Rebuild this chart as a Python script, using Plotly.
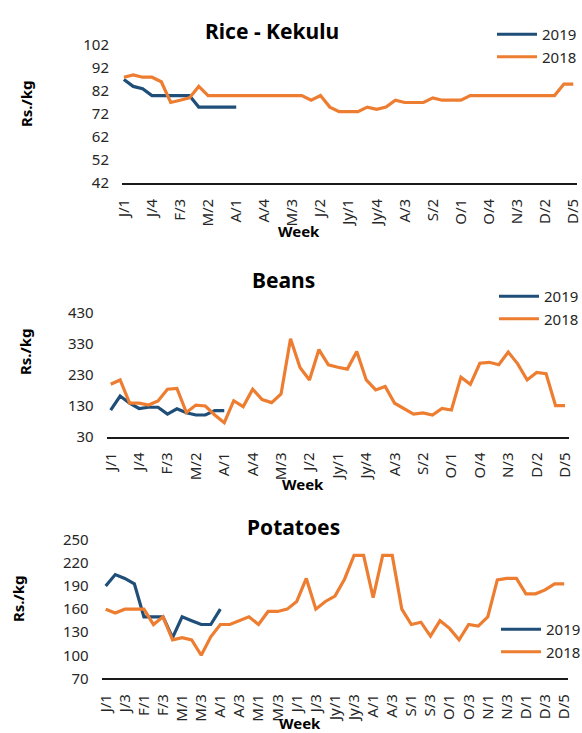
import plotly.graph_objects as go

# ---- data ----
weeks = ["J/1","J/2","J/3","J/4","F/1","F/2","F/3","F/4","M/1","M/2","M/3","M/4",
         "A/1","A/2","A/3","A/4","M/1","M/2","M/3","M/4","J/1","J/2","J/3","J/4",
         "Jy/1","Jy/2","Jy/3","Jy/4","A/1","A/2","A/3","A/4","S/1","S/2","S/3","S/4",
         "O/1","O/2","O/3","O/4","N/1","N/2","N/3","N/4","D/1","D/2","D/3","D/4","D/5"]

rice_2019 = [87, 84, 83, 80, 80, 80, 80, 80, 75, 75, 75, 75, 75]
rice_2018 = [88, 89, 88, 88, 86, 77, 78, 79, 84, 80, 80, 80, 80, 80, 80, 80, 80, 80, 80, 80,
             78, 80, 75, 73, 73, 73, 75, 74, 75, 78, 77, 77, 77, 79, 78, 78, 78,
             80, 80, 80, 80, 80, 80, 80, 80, 80, 80, 85, 85]

beans_2019 = [116, 161, 138, 121, 125, 125, 103, 120, 107, 100, 100, 114, 114]
beans_2018 = [199, 213, 138, 138, 132, 145, 183, 186, 108, 132, 129, 100, 75, 146, 127, 183,
              150, 140, 168, 346, 253, 213, 311, 262, 254, 248, 305, 213, 181, 192, 138, 121,
              103, 107, 100, 121, 116, 222, 199, 267, 270, 262, 303, 265, 213, 237, 233, 130, 130]

pot_2019 = [190, 205, 200, 193, 150, 150, 150, 123, 150, 145, 140, 140, 160]
pot_2018 = [160, 155, 160, 160, 160, 140, 150, 120, 123, 120, 100, 124, 140, 140, 145, 150,
            140, 157, 157, 160, 170, 200, 160, 170, 177, 199, 230, 230, 175, 230, 230, 160,
            140, 143, 125, 145, 135, 120, 140, 138, 150, 198, 200, 200, 180, 180, 185, 193, 193]

titles = ["Rice - Kekulu", "Beans", "Potatoes"]
series_names = ["2019", "2018"]
y_ticks = [[42, 52, 62, 72, 82, 92, 102],
           [30, 130, 230, 330, 430],
           [70, 100, 130, 160, 190, 220, 250]]
tick_steps = [3, 3, 2]

# ---- styling ----
W, H = 582, 733
BLUE = "#1F4E79"
ORANGE = "#ED7D31"
TXT = "#262626"
FONT = "Noto Sans"

xi = list(range(len(weeks)))

panels = [
    dict(d2019=rice_2019, d2018=rice_2018, px=(122, 577), py=(45, 183), xr=[-0.2, 48.4],
         title_xy=(272, 31), week_xy=(299, 231), rs_xy=(26, 104), leg_xy=(492, 18)),
    dict(d2019=beans_2019, d2018=beans_2018, px=(106.7, 569), py=(312.7, 436.7), xr=[-0.42, 48.42],
         title_xy=(283, 280), week_xy=(303, 484), rs_xy=(25, 352), leg_xy=(494, 280)),
    dict(d2019=pot_2019, d2018=pot_2018, px=(101.7, 568), py=(540, 678.3), xr=[-0.42, 48.4],
         title_xy=(293, 527), week_xy=(300, 723), rs_xy=(18, 599), leg_xy=(496, 613)),
]

fig = go.Figure()
annotations = []
layout_axes = {}

for k, p in enumerate(panels):
    sfx = "" if k == 0 else str(k + 1)
    xa, ya = "x" + sfx, "y" + sfx
    leg = "legend" + sfx
    fig.add_trace(go.Scatter(x=xi[:len(p["d2019"])], y=p["d2019"], mode="lines", name=series_names[0],
                             line=dict(color=BLUE, width=3.2), xaxis=xa, yaxis=ya, legend=leg))
    fig.add_trace(go.Scatter(x=xi[:len(p["d2018"])], y=p["d2018"], mode="lines", name=series_names[1],
                             line=dict(color=ORANGE, width=3.2), xaxis=xa, yaxis=ya, legend=leg))
    step = tick_steps[k]
    layout_axes["xaxis" + sfx] = dict(
        domain=[p["px"][0] / W, p["px"][1] / W], range=p["xr"], anchor=ya, automargin=False,
        tickmode="array", tickvals=xi[::step], ticktext=weeks[::step], tickangle=-90,
        ticklabeloverflow="allow",
        showline=True, linecolor="#1a1a1a", linewidth=1.6, showgrid=False, zeroline=False,
        ticks="", ticklabelstandoff=8, tickfont=dict(family=FONT, size=15, color=TXT))
    yt = y_ticks[k]
    layout_axes["yaxis" + sfx] = dict(
        domain=[1 - p["py"][1] / H, 1 - p["py"][0] / H], range=[yt[0], yt[-1]], anchor=xa,
        automargin=False, ticklabeloverflow="allow",
        tickmode="array", tickvals=yt, showgrid=False, zeroline=False, showline=False,
        ticks="", ticklabelstandoff=12, tickfont=dict(family=FONT, size=15, color=TXT))
    layout_axes[leg] = dict(
        x=p["leg_xy"][0] / W, y=1 - p["leg_xy"][1] / H, xanchor="left", yanchor="top",
        font=dict(family=FONT, size=15, color=TXT), bgcolor="rgba(0,0,0,0)",
        itemwidth=40, tracegroupgap=0)
    annotations.append(dict(text="<b>%s</b>" % titles[k], x=p["title_xy"][0] / W, y=1 - p["title_xy"][1] / H,
                            xref="paper", yref="paper", showarrow=False, xanchor="center", yanchor="middle",
                            font=dict(family=FONT, size=21, color="#000000")))
    annotations.append(dict(text="<b>Week</b>", x=p["week_xy"][0] / W, y=1 - p["week_xy"][1] / H,
                            xref="paper", yref="paper", showarrow=False, xanchor="center", yanchor="middle",
                            font=dict(family=FONT, size=15, color="#000000")))
    annotations.append(dict(text="<b>Rs./kg</b>", x=p["rs_xy"][0] / W, y=1 - p["rs_xy"][1] / H,
                            xref="paper", yref="paper", showarrow=False, xanchor="center", yanchor="middle",
                            textangle=-90, font=dict(family=FONT, size=15, color="#000000")))

fig.update_layout(
    width=W, height=H, autosize=False,
    margin=dict(l=0, r=0, t=0, b=0, pad=0, autoexpand=False),
    paper_bgcolor="white", plot_bgcolor="white",
    showlegend=True, annotations=annotations,
    **layout_axes)

fig.write_html("out.html",
               config={"displayModeBar": False},
               post_script="document.body.style.margin='0';document.body.style.overflow='hidden';")
